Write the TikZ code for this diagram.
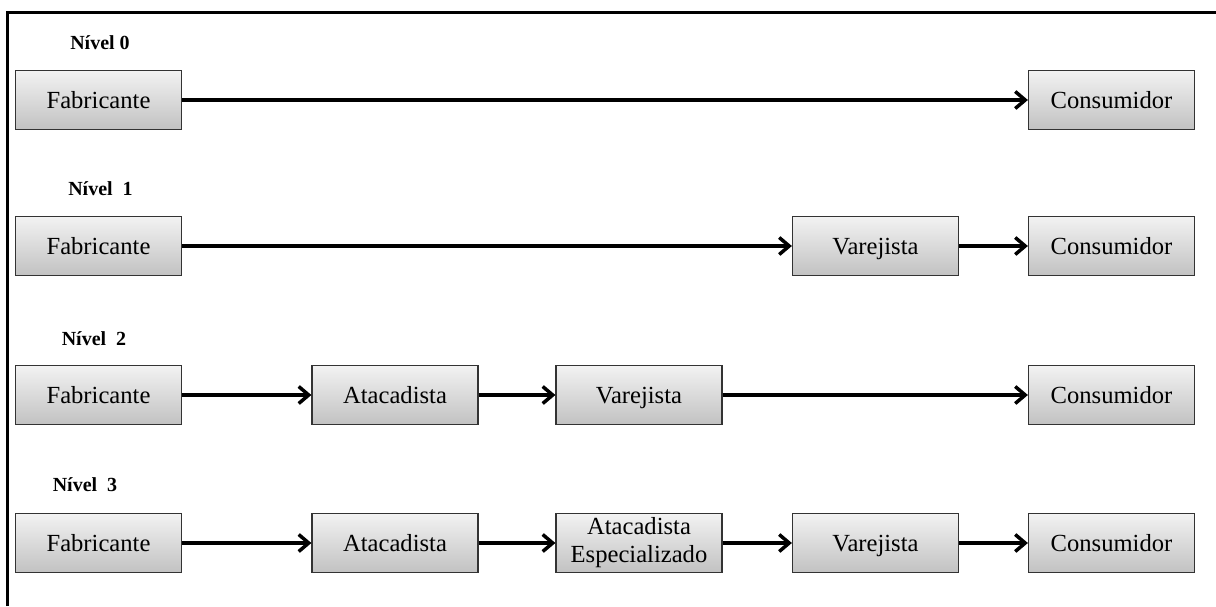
\documentclass[tikz,border=0pt]{standalone}
\usepackage{fontspec}
\setmainfont{Liberation Serif}
\usetikzlibrary{arrows.meta}
\begin{document}
\begin{tikzpicture}[x=1pt,y=-1pt,
  box/.style={draw=black!80, line width=1.2pt, top color=gray!10, bottom color=gray!48,
    minimum width=166pt, minimum height=59pt, inner sep=0pt,
    text height=16pt, text depth=0pt,
    font=\fontsize{24.6}{28}\selectfont},
  twoline/.style={text height={}, text depth={}, align=center},
  flow/.style={line width=3.5pt, -{Straight Barb[length=10pt,width=17pt]}},
  lvl/.style={font=\bfseries\fontsize{20}{22}\selectfont, inner sep=0pt},
  frame/.style={line width=3pt}]
\useasboundingbox (0,0) rectangle (1216,606);

% open frame: left and top sides
\coordinate (fbl) at (7,606);
\coordinate (ftl) at (7,12);
\coordinate (ftr) at (1216,12);
\draw[frame] (fbl) -- (ftl) -- (ftr);

% Nivel 0
\node[lvl] (l0) at (100,43) {Nível 0};
\node[box] (f0) at (98.5,100) {Fabricante};
\node[box] (c0) at (1111.5,100) {Consumidor};
\draw[flow] (f0) -- (c0);

% Nivel 1
\node[lvl] (l1) at (100.5,189) {Nível\ \ 1};
\node[box] (f1) at (98.5,246) {Fabricante};
\node[box] (v1) at (875.5,246) {Varejista};
\node[box] (c1) at (1111.5,246) {Consumidor};
\draw[flow] (f1) -- (v1);
\draw[flow] (v1) -- (c1);

% Nivel 2
\node[lvl] (l2) at (94,339) {Nível\ \ 2};
\node[box] (f2) at (98.5,395) {Fabricante};
\node[box] (a2) at (395,395) {Atacadista};
\node[box] (v2) at (639,395) {Varejista};
\node[box] (c2) at (1111.5,395) {Consumidor};
\draw[flow] (f2) -- (a2);
\draw[flow] (a2) -- (v2);
\draw[flow] (v2) -- (c2);

% Nivel 3
\node[lvl] (l3) at (85,485) {Nível\ \ 3};
\node[box] (f3) at (98.5,543) {Fabricante};
\node[box] (a3) at (395,543) {Atacadista};
\node[box, twoline] (e3) at (639,543) {\strut Atacadista\\\strut Especializado};
\node[box] (v3) at (875.5,543) {Varejista};
\node[box] (c3) at (1111.5,543) {Consumidor};
\draw[flow] (f3) -- (a3);
\draw[flow] (a3) -- (e3);
\draw[flow] (e3) -- (v3);
\draw[flow] (v3) -- (c3);
\end{tikzpicture}
\end{document}
